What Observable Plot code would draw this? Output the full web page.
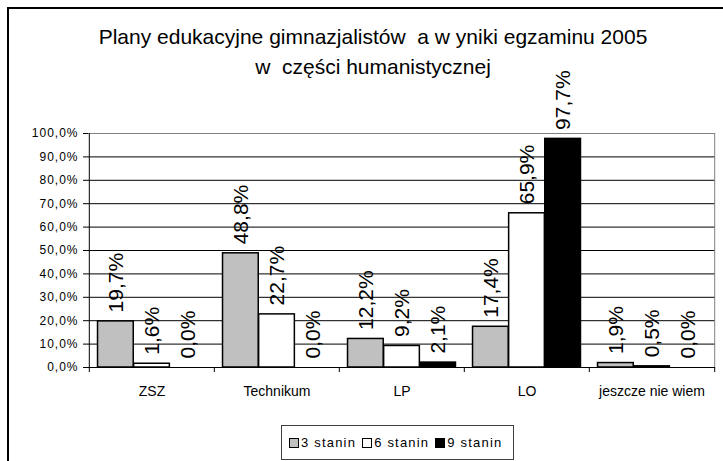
<!DOCTYPE html>
<html>
<head>
<meta charset="utf-8">
<script src="https://cdn.jsdelivr.net/npm/d3@7"></script>
<script src="https://cdn.jsdelivr.net/npm/@observablehq/plot@0.6"></script>
<style>
  body { margin: 0; background: #fff; }
  #wrap { position: relative; width: 723px; height: 461px; overflow: hidden; font-family: "Liberation Sans", Arial, sans-serif; color: #000; }
  #frame { position: absolute; left: 7px; top: 7px; width: 900px; height: 900px; border-left: 2px solid #000; border-top: 2px solid #000; }
  #title { position: absolute; left: 0; top: 22px; width: 746px; text-align: center; font-size: 21px; line-height: 30px; white-space: pre; }
  #chart { position: absolute; left: 0; top: 0; }
  #legend { position: absolute; left: 281px; top: 425px; width: 231px; height: 33px; border: 1px solid #404040; display: flex; align-items: center; font-size: 13px; letter-spacing: 1.2px; box-sizing: content-box; }
  .item { display: flex; align-items: center; margin-left: 7px; }
  .item + .item { margin-left: 6px; }
  .sw { width: 8px; height: 8px; border: 1.5px solid #000; margin-right: 2px; }
  g[aria-label="y-axis tick label"] text { letter-spacing: 1px; }
</style>
</head>
<body>
<div id="wrap">
  <div id="frame"></div>
  <div id="chart"></div>
  <div id="title"></div>
  <div id="legend"></div>
</div>
<script>
// ---- data ----
const titleLines = ["Plany edukacyjne gimnazjalistów  a w yniki egzaminu 2005", "w  części humanistycznej"];
const categories = ["ZSZ", "Technikum", "LP", "LO", "jeszcze nie wiem"];
const series = ["3 stanin", "6 stanin", "9 stanin"];
const stanin3 = [19.7, 48.8, 12.2, 17.4, 1.9];
const stanin6 = [1.6, 22.7, 9.2, 65.9, 0.5];
const stanin9 = [0.0, 0.0, 2.1, 97.7, 0.0];
const yTicks = [0, 10, 20, 30, 40, 50, 60, 70, 80, 90, 100];
const colors = ["#c0c0c0", "#ffffff", "#000000"];

const valuesBySeries = [stanin3, stanin6, stanin9];
const rows = [];
series.forEach((s, si) => categories.forEach((c, ci) => rows.push({cat: c, series: s, si, value: valuesBySeries[si][ci]})));

const fmt = v => v.toFixed(1).replace(".", ",") + "%";

// ---- layout ----
const W = 723, H = 415, mL = 88, mR = 8, mT = 133, mB = H - 367;
const step = (W - mL - mR) / categories.length;
const gap = step * 0.068;
const barW = (step - 2 * gap) / series.length;

const marks = [
  Plot.ruleY(yTicks.filter(t => t > 0 && t < 100), {stroke: "#000", strokeWidth: 1}),
  Plot.ruleY([yTicks[yTicks.length - 1]], {stroke: "#808080", strokeWidth: 1}),
  Plot.ruleX([categories[categories.length - 1]], {dx: step / 2, y1: 0, y2: 100, stroke: "#808080", strokeWidth: 1}),
];
series.forEach((s, i) => {
  marks.push(Plot.barY(rows.filter(r => r.si === i), {
    x: "cat", y: "value", fill: colors[i], stroke: "#000", strokeWidth: 1.5,
    insetLeft: gap + i * barW, insetRight: step - gap - (i + 1) * barW
  }));
});
series.forEach((s, i) => {
  marks.push(Plot.text(rows.filter(r => r.si === i), {
    x: "cat", y: "value", text: d => fmt(d.value), rotate: -90, textAnchor: "start",
    dx: (i - 1) * barW, dy: -9, fontSize: 21, fill: "#000"
  }));
});
marks.push(
  Plot.ruleY([0], {stroke: "#000", strokeWidth: 1}),
  Plot.ruleX([categories[0]], {dx: -step / 2, y1: 0, y2: 100, stroke: "#000", strokeWidth: 1}),
  Plot.ruleX(categories, {dx: -step / 2, y1: 0, y2: 0, insetBottom: -5, stroke: "#000"}),
  Plot.ruleX([categories[categories.length - 1]], {dx: step / 2, y1: 0, y2: 0, insetBottom: -5, stroke: "#000"}),
  Plot.axisY({ticks: yTicks, tickSize: 5, tickPadding: 5, tickFormat: fmt, fontSize: 12, label: null}),
  Plot.axisX({tickSize: 0, tickPadding: 19, fontSize: 14, label: null})
);

const chart = Plot.plot({
  width: W, height: H,
  marginLeft: mL, marginRight: mR, marginTop: mT, marginBottom: mB,
  style: {fontFamily: "'Liberation Sans', Arial, sans-serif", fontSize: "12px", background: "transparent", color: "#000", overflow: "visible"},
  x: {domain: categories, padding: 0},
  y: {domain: [0, 100]},
  marks
});
document.getElementById("chart").appendChild(chart);

document.getElementById("title").textContent = titleLines.join("\n");

const legend = document.getElementById("legend");
series.forEach((s, i) => {
  const item = document.createElement("div");
  item.className = "item";
  const sw = document.createElement("div");
  sw.className = "sw";
  sw.style.background = colors[i];
  const t = document.createElement("span");
  t.textContent = s;
  item.appendChild(sw);
  item.appendChild(t);
  legend.appendChild(item);
});
</script>
</body>
</html>
